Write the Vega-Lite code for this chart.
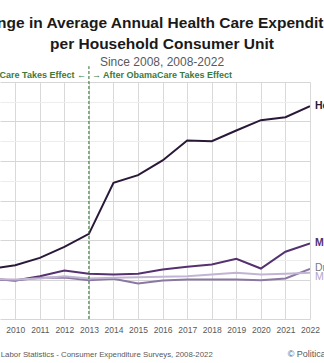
{
  "$schema": "https://vega.github.io/schema/vega-lite/v6.json",
  "width": 310,
  "height": 237,
  "autosize": {"type": "none"},
  "padding": {"left": 0, "top": 82, "right": 14, "bottom": 44},
  "background": "white",
  "config": {
    "view": {"stroke": null},
    "axisX": {"ticks": false, "domain": false, "labelColor": "#595959", "labelFont": "Liberation Sans", "labelFontSize": 8.5, "labelPadding": 6, "labelFlush": false, "labelOverlap": false, "gridColor": "#d9d9d9", "title": null},
    "axisY": {"labels": false, "ticks": false, "domain": false, "title": null}
  },
  "title": {
    "text": ["Change in Average Annual Health Care Expenditures", "per Household Consumer Unit"],
    "subtitle": "Since 2008, 2008-2022",
    "anchor": "middle",
    "frame": "group",
    "dx": 7,
    "font": "Liberation Sans",
    "fontSize": 15.5,
    "fontWeight": "bold",
    "color": "#1a1a1a",
    "lineHeight": 21,
    "subtitleFont": "Liberation Sans",
    "subtitleFontSize": 12,
    "subtitleColor": "#595959",
    "subtitlePadding": 4,
    "offset": -2
  },
  "datasets": {
    "spend": [
      {"year": 2008, "series": "Health Insurance", "value": 0},
      {"year": 2009, "series": "Health Insurance", "value": 133},
      {"year": 2010, "series": "Health Insurance", "value": 180},
      {"year": 2011, "series": "Health Insurance", "value": 274},
      {"year": 2012, "series": "Health Insurance", "value": 414},
      {"year": 2013, "series": "Health Insurance", "value": 578},
      {"year": 2014, "series": "Health Insurance", "value": 1225},
      {"year": 2015, "series": "Health Insurance", "value": 1321},
      {"year": 2016, "series": "Health Insurance", "value": 1507},
      {"year": 2017, "series": "Health Insurance", "value": 1760},
      {"year": 2018, "series": "Health Insurance", "value": 1751},
      {"year": 2019, "series": "Health Insurance", "value": 1886},
      {"year": 2020, "series": "Health Insurance", "value": 2017},
      {"year": 2021, "series": "Health Insurance", "value": 2055},
      {"year": 2022, "series": "Health Insurance", "value": 2194},
      {"year": 2008, "series": "Medical Services", "value": 0},
      {"year": 2009, "series": "Medical Services", "value": 10},
      {"year": 2010, "series": "Medical Services", "value": -13},
      {"year": 2011, "series": "Medical Services", "value": 42},
      {"year": 2012, "series": "Medical Services", "value": 114},
      {"year": 2013, "series": "Medical Services", "value": 72},
      {"year": 2014, "series": "Medical Services", "value": 63},
      {"year": 2015, "series": "Medical Services", "value": 72},
      {"year": 2016, "series": "Medical Services", "value": 127},
      {"year": 2017, "series": "Medical Services", "value": 160},
      {"year": 2018, "series": "Medical Services", "value": 190},
      {"year": 2019, "series": "Medical Services", "value": 262},
      {"year": 2020, "series": "Medical Services", "value": 139},
      {"year": 2021, "series": "Medical Services", "value": 351},
      {"year": 2022, "series": "Medical Services", "value": 456},
      {"year": 2008, "series": "Drugs", "value": 0},
      {"year": 2009, "series": "Drugs", "value": 5},
      {"year": 2010, "series": "Drugs", "value": -13},
      {"year": 2011, "series": "Drugs", "value": 21},
      {"year": 2012, "series": "Drugs", "value": 25},
      {"year": 2013, "series": "Drugs", "value": -9},
      {"year": 2014, "series": "Drugs", "value": 9},
      {"year": 2015, "series": "Drugs", "value": -51},
      {"year": 2016, "series": "Drugs", "value": -13},
      {"year": 2017, "series": "Drugs", "value": 0},
      {"year": 2018, "series": "Drugs", "value": 0},
      {"year": 2019, "series": "Drugs", "value": 0},
      {"year": 2020, "series": "Drugs", "value": -9},
      {"year": 2021, "series": "Drugs", "value": 13},
      {"year": 2022, "series": "Drugs", "value": 135},
      {"year": 2008, "series": "Medical Supplies", "value": 0},
      {"year": 2009, "series": "Medical Supplies", "value": 5},
      {"year": 2010, "series": "Medical Supplies", "value": 0},
      {"year": 2011, "series": "Medical Supplies", "value": 13},
      {"year": 2012, "series": "Medical Supplies", "value": 42},
      {"year": 2013, "series": "Medical Supplies", "value": 13},
      {"year": 2014, "series": "Medical Supplies", "value": 21},
      {"year": 2015, "series": "Medical Supplies", "value": 30},
      {"year": 2016, "series": "Medical Supplies", "value": 34},
      {"year": 2017, "series": "Medical Supplies", "value": 42},
      {"year": 2018, "series": "Medical Supplies", "value": 63},
      {"year": 2019, "series": "Medical Supplies", "value": 85},
      {"year": 2020, "series": "Medical Supplies", "value": 63},
      {"year": 2021, "series": "Medical Supplies", "value": 72},
      {"year": 2022, "series": "Medical Supplies", "value": 85}
    ],
    "notes": [
      {"key": "before", "label": "Before ObamaCare Takes Effect \u2190"},
      {"key": "after", "label": "\u2192 After ObamaCare Takes Effect"},
      {"key": "source", "label": "Source: U.S. Bureau of Labor Statistics - Consumer Expenditure Surveys, 2008-2022"},
      {"key": "credit", "label": "\u00a9 Political Calculations"}
    ]
  },
  "layer": [
    {
      "data": {"name": "spend"},
      "mark": {"type": "line", "clip": true},
      "encoding": {
        "x": {"field": "year", "type": "quantitative", "scale": {"domain": [2009.38, 2022], "nice": false, "zero": false},
          "axis": {"values": [2010, 2011, 2012, 2013, 2014, 2015, 2016, 2017, 2018, 2019, 2020, 2021, 2022], "format": "d"}},
        "y": {"field": "value", "type": "quantitative", "scale": {"domain": [-500, 2500], "nice": false, "zero": false},
          "axis": {"values": [-500, -250, 0, 250, 500, 750, 1000, 1250, 1500, 1750, 2000, 2250, 2500], "gridColor": {"condition": {"test": "datum.value % 500 === 0", "value": "#d6d6d6"}, "value": "#ededed"}}},
        "color": {
          "field": "series",
          "type": "nominal",
          "scale": {
            "domain": ["Health Insurance", "Medical Services", "Drugs", "Medical Supplies"],
            "range": ["#2a1838", "#55316f", "#8a77a2", "#c2b5d3"]
          },
          "legend": null
        },
        "strokeWidth": {
          "field": "series",
          "type": "nominal",
          "scale": {
            "domain": ["Health Insurance", "Medical Services", "Drugs", "Medical Supplies"],
            "range": [2, 2, 1.6, 1.6]
          },
          "legend": null
        },
        "order": {"field": "year"}
      }
    },
    {
      "data": {"name": "notes"},
      "transform": [{"filter": "datum.key === 'before'"}],
      "mark": {"type": "rule", "strokeDash": [3, 2], "color": "#2a6a2a", "strokeWidth": 1},
      "encoding": {
        "x": {"datum": 2013, "type": "quantitative",
          "axis": {"values": [2010, 2011, 2012, 2013, 2014, 2015, 2016, 2017, 2018, 2019, 2020, 2021, 2022], "format": "d"}},
        "y": {"datum": -500, "type": "quantitative",
          "axis": {"values": [-500, -250, 0, 250, 500, 750, 1000, 1250, 1500, 1750, 2000, 2250, 2500], "gridColor": {"condition": {"test": "datum.value % 500 === 0", "value": "#d6d6d6"}, "value": "#ededed"}}},
        "y2": {"datum": 2700}
      }
    },
    {
      "data": {"name": "spend"},
      "transform": [{"filter": "datum.year === 2022 && (datum.series === 'Health Insurance' || datum.series === 'Medical Services')"}],
      "mark": {"type": "text", "align": "left", "baseline": "middle", "dx": 5, "font": "Liberation Sans", "fontSize": 10.5, "fontWeight": "bold"},
      "encoding": {
        "x": {"field": "year", "type": "quantitative",
          "axis": {"values": [2010, 2011, 2012, 2013, 2014, 2015, 2016, 2017, 2018, 2019, 2020, 2021, 2022], "format": "d"}},
        "y": {"field": "value", "type": "quantitative",
          "axis": {"values": [-500, -250, 0, 250, 500, 750, 1000, 1250, 1500, 1750, 2000, 2250, 2500], "gridColor": {"condition": {"test": "datum.value % 500 === 0", "value": "#d6d6d6"}, "value": "#ededed"}}},
        "text": {"field": "series"},
        "color": {"field": "series", "type": "nominal", "legend": null}
      }
    },
    {
      "data": {"name": "spend"},
      "transform": [{"filter": "datum.year === 2022 && datum.series === 'Drugs'"}],
      "mark": {"type": "text", "align": "left", "baseline": "middle", "dx": 5, "dy": -1, "font": "Liberation Sans", "fontSize": 10.5, "color": "#7a7a85"},
      "encoding": {
        "x": {"field": "year", "type": "quantitative",
          "axis": {"values": [2010, 2011, 2012, 2013, 2014, 2015, 2016, 2017, 2018, 2019, 2020, 2021, 2022], "format": "d"}},
        "y": {"field": "value", "type": "quantitative",
          "axis": {"values": [-500, -250, 0, 250, 500, 750, 1000, 1250, 1500, 1750, 2000, 2250, 2500], "gridColor": {"condition": {"test": "datum.value % 500 === 0", "value": "#d6d6d6"}, "value": "#ededed"}}},
        "text": {"field": "series"}
      }
    },
    {
      "data": {"name": "spend"},
      "transform": [{"filter": "datum.year === 2022 && datum.series === 'Medical Supplies'"}],
      "mark": {"type": "text", "align": "left", "baseline": "middle", "dx": 5, "dy": 4, "font": "Liberation Sans", "fontSize": 10.5, "color": "#b3a4c8"},
      "encoding": {
        "x": {"field": "year", "type": "quantitative",
          "axis": {"values": [2010, 2011, 2012, 2013, 2014, 2015, 2016, 2017, 2018, 2019, 2020, 2021, 2022], "format": "d"}},
        "y": {"field": "value", "type": "quantitative",
          "axis": {"values": [-500, -250, 0, 250, 500, 750, 1000, 1250, 1500, 1750, 2000, 2250, 2500], "gridColor": {"condition": {"test": "datum.value % 500 === 0", "value": "#d6d6d6"}, "value": "#ededed"}}},
        "text": {"field": "series"}
      }
    },
    {
      "data": {"name": "notes"},
      "transform": [{"filter": "datum.key === 'before'"}],
      "mark": {"type": "text", "align": "right", "baseline": "alphabetic", "dx": -3, "font": "Liberation Sans", "fontSize": 9, "fontWeight": "bold", "color": "#3c7a3c"},
      "encoding": {
        "x": {"datum": 2013, "type": "quantitative",
          "axis": {"values": [2010, 2011, 2012, 2013, 2014, 2015, 2016, 2017, 2018, 2019, 2020, 2021, 2022], "format": "d"}},
        "y": {"datum": 2550, "type": "quantitative",
          "axis": {"values": [-500, -250, 0, 250, 500, 750, 1000, 1250, 1500, 1750, 2000, 2250, 2500], "gridColor": {"condition": {"test": "datum.value % 500 === 0", "value": "#d6d6d6"}, "value": "#ededed"}}},
        "text": {"field": "label"}
      }
    },
    {
      "data": {"name": "notes"},
      "transform": [{"filter": "datum.key === 'after'"}],
      "mark": {"type": "text", "align": "left", "baseline": "alphabetic", "dx": 3, "font": "Liberation Sans", "fontSize": 9, "fontWeight": "bold", "color": "#3c7a3c"},
      "encoding": {
        "x": {"datum": 2013, "type": "quantitative",
          "axis": {"values": [2010, 2011, 2012, 2013, 2014, 2015, 2016, 2017, 2018, 2019, 2020, 2021, 2022], "format": "d"}},
        "y": {"datum": 2550, "type": "quantitative",
          "axis": {"values": [-500, -250, 0, 250, 500, 750, 1000, 1250, 1500, 1750, 2000, 2250, 2500], "gridColor": {"condition": {"test": "datum.value % 500 === 0", "value": "#d6d6d6"}, "value": "#ededed"}}},
        "text": {"field": "label"}
      }
    },
    {
      "data": {"name": "notes"},
      "transform": [{"filter": "datum.key === 'source'"}],
      "mark": {"type": "text", "align": "right", "baseline": "alphabetic", "font": "Liberation Sans", "fontSize": 7.8, "color": "#595959"},
      "encoding": {
        "x": {"datum": 2018.04, "type": "quantitative",
          "axis": {"values": [2010, 2011, 2012, 2013, 2014, 2015, 2016, 2017, 2018, 2019, 2020, 2021, 2022], "format": "d"}},
        "y": {"datum": -980, "type": "quantitative",
          "axis": {"values": [-500, -250, 0, 250, 500, 750, 1000, 1250, 1500, 1750, 2000, 2250, 2500], "gridColor": {"condition": {"test": "datum.value % 500 === 0", "value": "#d6d6d6"}, "value": "#ededed"}}},
        "text": {"field": "label"}
      }
    },
    {
      "data": {"name": "notes"},
      "transform": [{"filter": "datum.key === 'credit'"}],
      "mark": {"type": "text", "align": "left", "baseline": "alphabetic", "font": "Liberation Sans", "fontSize": 9, "color": "#595959"},
      "encoding": {
        "x": {"datum": 2021.09, "type": "quantitative",
          "axis": {"values": [2010, 2011, 2012, 2013, 2014, 2015, 2016, 2017, 2018, 2019, 2020, 2021, 2022], "format": "d"}},
        "y": {"datum": -980, "type": "quantitative",
          "axis": {"values": [-500, -250, 0, 250, 500, 750, 1000, 1250, 1500, 1750, 2000, 2250, 2500], "gridColor": {"condition": {"test": "datum.value % 500 === 0", "value": "#d6d6d6"}, "value": "#ededed"}}},
        "text": {"field": "label"}
      }
    }
  ]
}
